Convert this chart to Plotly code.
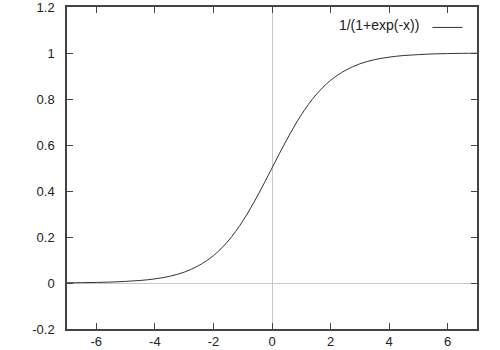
import plotly.graph_objects as go

x_vals = [-7, -6.5, -6, -5.5, -5, -4.5, -4, -3.5, -3, -2.5, -2, -1.5, -1, -0.5,
          0, 0.5, 1, 1.5, 2, 2.5, 3, 3.5, 4, 4.5, 5, 5.5, 6, 6.5, 7]
y_vals = [0.001, 0.0015, 0.0025, 0.004, 0.007, 0.011, 0.018, 0.029, 0.047, 0.076,
          0.119, 0.182, 0.269, 0.378, 0.5, 0.622, 0.731, 0.818, 0.881, 0.924,
          0.953, 0.971, 0.982, 0.989, 0.993, 0.996, 0.9975, 0.9985, 0.999]
x_ticks = [-6, -4, -2, 0, 2, 4, 6]
y_ticks = [-0.2, 0, 0.2, 0.4, 0.6, 0.8, 1, 1.2]
y_ticklabels = ["-0.2", "0", "0.2", "0.4", "0.6", "0.8", "1", "1.2"]
series_name = "1/(1+exp(-x))"

FONT = "Liberation Sans, Arial, sans-serif"

fig = go.Figure()
fig.add_trace(go.Scatter(
    x=x_vals, y=y_vals, mode="lines", name="",
    line=dict(color="#333333", width=1, shape="spline"),
    showlegend=True,
))

axis_common = dict(
    showgrid=False, automargin=False, ticklabeloverflow="allow",
    showline=True, linecolor="#444444", linewidth=1.5,
    mirror="ticks", ticks="inside", ticklen=6, tickcolor="#444444", tickwidth=1,
    zeroline=True, zerolinecolor="#c8c8c8", zerolinewidth=1,
    tickfont=dict(family=FONT, size=13, color="#222222"),
)

fig.update_layout(
    width=500, height=350,
    margin=dict(l=67, r=23, t=7, b=21),
    paper_bgcolor="white", plot_bgcolor="white",
    xaxis=dict(range=[-7, 7], tickvals=x_ticks, ticktext=[str(v) for v in x_ticks],
               ticklabelstandoff=0, **axis_common),
    yaxis=dict(range=[-0.2, 1.2], tickvals=y_ticks, ticktext=y_ticklabels,
               ticklabelstandoff=8, **axis_common),
    legend=dict(
        x=0.99, y=0.985, xanchor="right", yanchor="top",
        bgcolor="rgba(0,0,0,0)",
        title=dict(text=series_name, side="left",
                   font=dict(family=FONT, size=14, color="#222222")),
        font=dict(family=FONT, size=14),
        itemwidth=30,
    ),
    font=dict(family=FONT, size=13),
)

fig.write_html("out.html")
